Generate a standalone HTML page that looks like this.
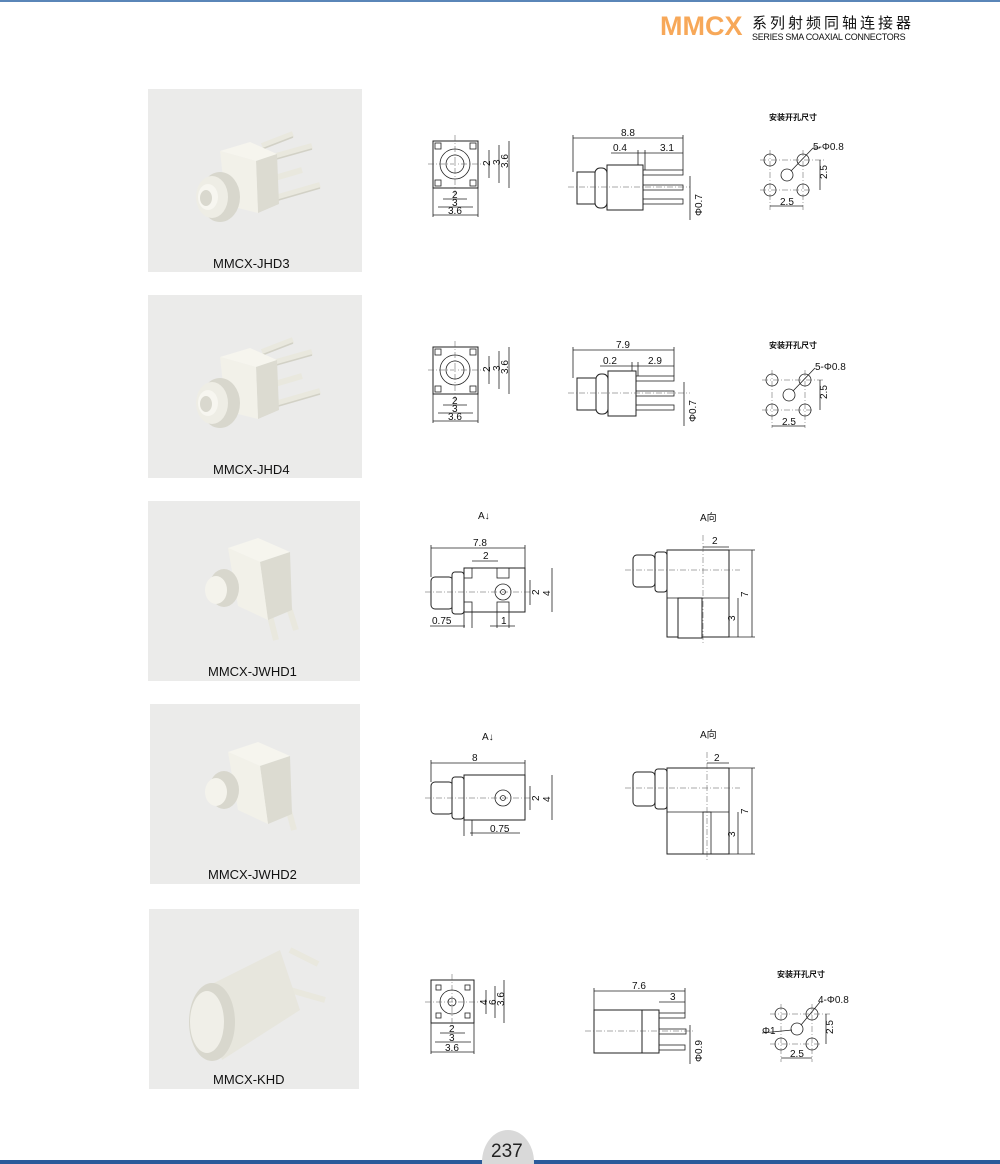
<!DOCTYPE html>
<html><head><meta charset="utf-8"><style>
html,body{margin:0;padding:0;background:#fff}
svg{display:block}
text{font-family:"Liberation Sans","Noto Sans CJK SC",sans-serif;fill:#111}
.d{stroke:#222;stroke-width:0.8;fill:none}
.b{stroke:#222;stroke-width:1;fill:#fff}
.c{stroke:#555;stroke-width:0.5;stroke-dasharray:6 2 1 2;fill:none}
.t{font-size:10px}
.lab{font-size:13px}
.pin{stroke:#e9e8de;stroke-width:6;stroke-linecap:butt}
.pin2{stroke:#d2d1c6;stroke-width:1.5}
</style></head><body>
<svg width="1000" height="1164" viewBox="0 0 1000 1164" xmlns="http://www.w3.org/2000/svg">
<rect x="0" y="0" width="1000" height="2" fill="#5a86b8"/>
<text x="660" y="35" style="font-size:27px;font-weight:bold;fill:#f7a859">MMCX</text>
<text x="752" y="28" style="font-size:15px;letter-spacing:3px">系列射频同轴连接器</text>
<text x="752" y="40" style="font-size:9px;letter-spacing:-0.3px">SERIES SMA  COAXIAL CONNECTORS</text>

<g>
<rect x="148" y="89" width="214" height="183" fill="#ebebea"/>
<rect x="148" y="295" width="214" height="183" fill="#ebebea"/>
<rect x="148" y="501" width="212" height="180" fill="#ebebea"/>
<rect x="150" y="704" width="210" height="180" fill="#ebebea"/>
<rect x="149" y="909" width="210" height="180" fill="#ebebea"/>
<text x="213" y="268" class="lab">MMCX-JHD3</text>
<text x="213" y="474" class="lab">MMCX-JHD4</text>
<text x="208" y="676" class="lab">MMCX-JWHD1</text>
<text x="208" y="879" class="lab">MMCX-JWHD2</text>
<text x="213" y="1084" class="lab">MMCX-KHD</text>
</g>

<g id="p1">
<line x1="262" y1="146" x2="293" y2="134" class="pin"/>
<line x1="262" y1="160" x2="312" y2="146" class="pin"/>
<line x1="268" y1="180" x2="302" y2="170" class="pin"/>
<line x1="268" y1="200" x2="320" y2="185" class="pin"/>
<line x1="262" y1="149" x2="293" y2="137" class="pin2"/>
<line x1="262" y1="163" x2="312" y2="149" class="pin2"/>
<line x1="268" y1="203" x2="320" y2="188" class="pin2"/>
<polygon points="220,151 250,142 277,154 256,161" fill="#f6f5ee"/>
<polygon points="256,161 277,154 279,204 258,213" fill="#dcdbd1"/>
<polygon points="220,151 256,161 258,213 226,205" fill="#f2f1e9"/>
<ellipse cx="220" cy="197" rx="20" ry="25" fill="#d8d7cd"/>
<ellipse cx="212" cy="197" rx="16" ry="21" fill="#eeede5"/>
<ellipse cx="208" cy="197" rx="10" ry="13" fill="#f7f6f0"/>
<ellipse cx="206" cy="198" rx="6" ry="8" fill="#d9d8ce"/>
</g>
<g transform="translate(0,206)">
<line x1="262" y1="146" x2="293" y2="134" class="pin"/>
<line x1="262" y1="160" x2="312" y2="146" class="pin"/>
<line x1="268" y1="180" x2="302" y2="170" class="pin"/>
<line x1="268" y1="200" x2="320" y2="185" class="pin"/>
<line x1="262" y1="149" x2="293" y2="137" class="pin2"/>
<line x1="262" y1="163" x2="312" y2="149" class="pin2"/>
<line x1="268" y1="203" x2="320" y2="188" class="pin2"/>
<polygon points="220,151 250,142 277,154 256,161" fill="#f6f5ee"/>
<polygon points="256,161 277,154 279,204 258,213" fill="#dcdbd1"/>
<polygon points="220,151 256,161 258,213 226,205" fill="#f2f1e9"/>
<ellipse cx="220" cy="197" rx="20" ry="25" fill="#d8d7cd"/>
<ellipse cx="212" cy="197" rx="16" ry="21" fill="#eeede5"/>
<ellipse cx="208" cy="197" rx="10" ry="13" fill="#f7f6f0"/>
<ellipse cx="206" cy="198" rx="6" ry="8" fill="#d9d8ce"/>
</g>
<g>
<line x1="266" y1="600" x2="276" y2="640" class="pin"/>
<line x1="286" y1="598" x2="296" y2="630" class="pin"/>
<polygon points="228,548 258,538 290,552 260,562" fill="#f6f5ee"/>
<polygon points="260,562 290,552 292,610 268,620" fill="#dcdbd1"/>
<polygon points="228,548 260,562 268,620 238,606" fill="#f2f1e9"/>
<ellipse cx="224" cy="588" rx="15" ry="19" fill="#d8d7cd"/>
<ellipse cx="216" cy="590" rx="11" ry="14" fill="#f4f3ec"/>
</g>
<g>
<line x1="286" y1="800" x2="294" y2="830" class="pin"/>
<polygon points="228,752 258,742 290,756 260,766" fill="#f6f5ee"/>
<polygon points="260,766 290,756 292,814 268,824" fill="#dcdbd1"/>
<polygon points="228,752 260,766 268,824 238,810" fill="#f2f1e9"/>
<ellipse cx="224" cy="790" rx="15" ry="19" fill="#d8d7cd"/>
<ellipse cx="216" cy="792" rx="11" ry="14" fill="#f4f3ec"/>
</g>
<g>
<line x1="290" y1="950" x2="318" y2="964" class="pin"/>
<line x1="290" y1="990" x2="325" y2="1000" class="pin"/>
<polygon points="200,990 280,950 300,1010 222,1060" fill="#e7e6dd"/>
<ellipse cx="212" cy="1022" rx="23" ry="39" fill="#d8d7cd"/>
<ellipse cx="207" cy="1022" rx="17" ry="31" fill="#f0efe8"/>
</g>

<!-- ROW 1 drawings -->
<g id="r1">
<rect x="433" y="141" width="45" height="47" class="b"/>
<rect x="435" y="143" width="6" height="6" class="d"/><rect x="470" y="143" width="6" height="6" class="d"/>
<rect x="435" y="180" width="6" height="6" class="d"/><rect x="470" y="180" width="6" height="6" class="d"/>
<circle cx="455" cy="164" r="15" class="d" stroke-width="1.5"/>
<circle cx="455" cy="164" r="9" class="d"/>
<line x1="428" y1="164" x2="484" y2="164" class="c"/><line x1="455" y1="135" x2="455" y2="195" class="c"/>
<line x1="489" y1="150" x2="489" y2="178" class="d"/><line x1="499" y1="145" x2="499" y2="183" class="d"/><line x1="509" y1="141" x2="509" y2="188" class="d"/>
<text x="484" y="168" class="t" transform="rotate(-90 486 164)">2</text>
<text x="495" y="168" class="t" transform="rotate(-90 496 164)">3</text>
<text x="500" y="168" class="t" transform="rotate(-90 504 164)">3.6</text>
<line x1="443" y1="199" x2="467" y2="199" class="d"/><line x1="438" y1="207" x2="473" y2="207" class="d"/><line x1="433" y1="215" x2="478" y2="215" class="d"/>
<line x1="433" y1="188" x2="433" y2="217" class="d"/><line x1="478" y1="188" x2="478" y2="217" class="d"/>
<text x="452" y="198" class="t">2</text><text x="452" y="206" class="t">3</text><text x="448" y="214" class="t">3.6</text>
<rect x="577" y="172" width="30" height="32" class="b"/>
<rect x="595" y="168" width="12" height="40" rx="5" class="b"/>
<rect x="607" y="165" width="36" height="45" class="b"/>
<rect x="643" y="170" width="40" height="5" class="d"/><rect x="643" y="185" width="40" height="5" class="d"/><rect x="643" y="199" width="40" height="5" class="d"/>
<line x1="568" y1="187" x2="690" y2="187" class="c"/>
<line x1="573" y1="138" x2="683" y2="138" class="d"/><line x1="573" y1="135" x2="573" y2="172" class="d"/><line x1="683" y1="135" x2="683" y2="170" class="d"/>
<text x="621" y="136" class="t">8.8</text>
<line x1="611" y1="153" x2="683" y2="153" class="d"/><line x1="638" y1="150" x2="638" y2="165" class="d"/><line x1="645" y1="150" x2="645" y2="170" class="d"/>
<text x="613" y="151" class="t">0.4</text><text x="660" y="151" class="t">3.1</text>
<line x1="690" y1="176" x2="690" y2="220" class="d"/>
<text x="688" y="222" class="t" transform="rotate(-90 692 212)">Φ0.7</text>
<text x="769" y="120" style="font-size:8px;font-weight:bold">安装开孔尺寸</text>
<circle cx="770" cy="160" r="6" class="d"/><circle cx="803" cy="160" r="6" class="d"/><circle cx="787" cy="175" r="6" class="d"/><circle cx="770" cy="190" r="6" class="d"/><circle cx="803" cy="190" r="6" class="d"/>
<line x1="760" y1="160" x2="825" y2="160" class="c"/><line x1="760" y1="190" x2="812" y2="190" class="c"/>
<line x1="770" y1="150" x2="770" y2="210" class="c"/><line x1="803" y1="150" x2="803" y2="210" class="c"/>
<line x1="791" y1="171" x2="813" y2="148" class="d"/><line x1="813" y1="148" x2="820" y2="148" class="d"/>
<text x="813" y="150" class="t">5-Φ0.8</text>
<line x1="820" y1="160" x2="820" y2="190" class="d"/>
<text x="820" y="180" class="t" transform="rotate(-90 823 176)">2.5</text>
<line x1="770" y1="206" x2="803" y2="206" class="d"/>
<text x="780" y="205" class="t">2.5</text>
</g>

<!-- ROW 2 -->
<g transform="translate(0,206)">
<rect x="433" y="141" width="45" height="47" class="b"/>
<rect x="435" y="143" width="6" height="6" class="d"/><rect x="470" y="143" width="6" height="6" class="d"/>
<rect x="435" y="180" width="6" height="6" class="d"/><rect x="470" y="180" width="6" height="6" class="d"/>
<circle cx="455" cy="164" r="15" class="d" stroke-width="1.5"/>
<circle cx="455" cy="164" r="9" class="d"/>
<line x1="428" y1="164" x2="484" y2="164" class="c"/><line x1="455" y1="135" x2="455" y2="195" class="c"/>
<line x1="489" y1="150" x2="489" y2="178" class="d"/><line x1="499" y1="145" x2="499" y2="183" class="d"/><line x1="509" y1="141" x2="509" y2="188" class="d"/>
<text x="484" y="168" class="t" transform="rotate(-90 486 164)">2</text>
<text x="495" y="168" class="t" transform="rotate(-90 496 164)">3</text>
<text x="500" y="168" class="t" transform="rotate(-90 504 164)">3.6</text>
<line x1="443" y1="199" x2="467" y2="199" class="d"/><line x1="438" y1="207" x2="473" y2="207" class="d"/><line x1="433" y1="215" x2="478" y2="215" class="d"/>
<line x1="433" y1="188" x2="433" y2="217" class="d"/><line x1="478" y1="188" x2="478" y2="217" class="d"/>
<text x="452" y="198" class="t">2</text><text x="452" y="206" class="t">3</text><text x="448" y="214" class="t">3.6</text>
<rect x="577" y="172" width="22" height="32" class="b"/>
<rect x="596" y="168" width="12" height="40" rx="5" class="b"/>
<rect x="608" y="165" width="28" height="45" class="b"/>
<rect x="636" y="170" width="38" height="5" class="d"/><rect x="636" y="185" width="38" height="5" class="d"/><rect x="636" y="199" width="38" height="5" class="d"/>
<line x1="568" y1="187" x2="690" y2="187" class="c"/>
<line x1="573" y1="144" x2="674" y2="144" class="d"/><line x1="573" y1="141" x2="573" y2="172" class="d"/><line x1="674" y1="141" x2="674" y2="170" class="d"/>
<text x="616" y="142" class="t">7.9</text>
<line x1="600" y1="160" x2="674" y2="160" class="d"/><line x1="632" y1="156" x2="632" y2="165" class="d"/><line x1="638" y1="156" x2="638" y2="170" class="d"/>
<text x="603" y="158" class="t">0.2</text><text x="648" y="158" class="t">2.9</text>
<line x1="684" y1="176" x2="684" y2="220" class="d"/>
<text x="682" y="222" class="t" transform="rotate(-90 686 212)">Φ0.7</text>
<text x="769" y="142" style="font-size:8px;font-weight:bold">安装开孔尺寸</text>
<circle cx="772" cy="174" r="6" class="d"/><circle cx="805" cy="174" r="6" class="d"/><circle cx="789" cy="189" r="6" class="d"/><circle cx="772" cy="204" r="6" class="d"/><circle cx="805" cy="204" r="6" class="d"/>
<line x1="762" y1="174" x2="825" y2="174" class="c"/><line x1="762" y1="204" x2="814" y2="204" class="c"/>
<line x1="772" y1="164" x2="772" y2="222" class="c"/><line x1="805" y1="164" x2="805" y2="222" class="c"/>
<line x1="793" y1="185" x2="815" y2="162" class="d"/>
<text x="815" y="164" class="t">5-Φ0.8</text>
<line x1="820" y1="174" x2="820" y2="204" class="d"/>
<text x="820" y="194" class="t" transform="rotate(-90 823 190)">2.5</text>
<line x1="772" y1="220" x2="805" y2="220" class="d"/>
<text x="782" y="219" class="t">2.5</text>
</g>

<!-- ROW 3 -->
<g>
<text x="478" y="519" class="t">A↓</text>
<rect x="431" y="577" width="22" height="32" rx="4" class="b"/>
<rect x="452" y="572" width="12" height="42" rx="3" class="b"/>
<rect x="464" y="568" width="61" height="44" class="b"/>
<rect x="464" y="568" width="8" height="10" class="d"/><rect x="464" y="602" width="8" height="10" class="d"/>
<rect x="497" y="568" width="12" height="10" class="d"/><rect x="497" y="602" width="12" height="10" class="d"/>
<circle cx="503" cy="592" r="8" class="d"/><circle cx="503" cy="592" r="2.5" class="d"/>
<line x1="425" y1="592" x2="535" y2="592" class="c"/>
<line x1="431" y1="548" x2="525" y2="548" class="d"/><line x1="431" y1="545" x2="431" y2="577" class="d"/><line x1="525" y1="545" x2="525" y2="568" class="d"/>
<text x="473" y="546" class="t">7.8</text>
<line x1="472" y1="561" x2="498" y2="561" class="d"/><text x="483" y="559" class="t">2</text>
<line x1="530" y1="580" x2="530" y2="605" class="d"/><line x1="552" y1="568" x2="552" y2="612" class="d"/>
<text x="532" y="596" class="t" transform="rotate(-90 535 592)">2</text>
<text x="542" y="596" class="t" transform="rotate(-90 546 592)">4</text>
<line x1="430" y1="626" x2="465" y2="626" class="d"/><line x1="490" y1="626" x2="515" y2="626" class="d"/>
<line x1="464" y1="612" x2="464" y2="628" class="d"/><line x1="472" y1="612" x2="472" y2="628" class="d"/>
<line x1="497" y1="612" x2="497" y2="628" class="d"/><line x1="509" y1="612" x2="509" y2="628" class="d"/>
<text x="432" y="624" class="t">0.75</text><text x="501" y="624" class="t">1</text>
<text x="700" y="521" class="t">A向</text>
<rect x="633" y="555" width="22" height="32" rx="4" class="b"/>
<rect x="655" y="552" width="12" height="40" rx="3" class="b"/>
<rect x="667" y="550" width="62" height="87" class="b"/>
<rect x="678" y="598" width="24" height="40" fill="#fff" stroke="#222"/>
<line x1="667" y1="598" x2="729" y2="598" class="d"/>
<line x1="703" y1="535" x2="703" y2="645" class="c"/>
<line x1="625" y1="570" x2="740" y2="570" class="c"/>
<line x1="703" y1="547" x2="729" y2="547" class="d"/><text x="712" y="544" class="t">2</text>
<line x1="729" y1="550" x2="755" y2="550" class="d"/><line x1="729" y1="637" x2="755" y2="637" class="d"/>
<line x1="752" y1="550" x2="752" y2="637" class="d"/><line x1="738" y1="598" x2="738" y2="637" class="d"/>
<text x="740" y="597" class="t" transform="rotate(-90 744 593)">7</text>
<text x="727" y="621" class="t" transform="rotate(-90 731 617)">3</text>
</g>

<!-- ROW 4 -->
<g>
<text x="482" y="740" class="t">A↓</text>
<rect x="431" y="782" width="22" height="32" rx="4" class="b"/>
<rect x="452" y="777" width="12" height="42" rx="3" class="b"/>
<rect x="464" y="775" width="61" height="45" class="b"/>
<circle cx="503" cy="798" r="8" class="d"/><circle cx="503" cy="798" r="2.5" class="d"/>
<line x1="425" y1="798" x2="535" y2="798" class="c"/>
<line x1="431" y1="763" x2="525" y2="763" class="d"/><line x1="431" y1="760" x2="431" y2="782" class="d"/><line x1="525" y1="760" x2="525" y2="775" class="d"/>
<text x="472" y="761" class="t">8</text>
<line x1="530" y1="786" x2="530" y2="810" class="d"/><line x1="552" y1="775" x2="552" y2="820" class="d"/>
<text x="532" y="802" class="t" transform="rotate(-90 535 798)">2</text>
<text x="542" y="802" class="t" transform="rotate(-90 546 798)">4</text>
<line x1="470" y1="833" x2="520" y2="833" class="d"/><line x1="464" y1="820" x2="464" y2="836" class="d"/><line x1="472" y1="820" x2="472" y2="836" class="d"/>
<text x="490" y="832" class="t">0.75</text>
<text x="700" y="738" class="t">A向</text>
<rect x="633" y="772" width="22" height="34" rx="4" class="b"/>
<rect x="655" y="769" width="12" height="40" rx="3" class="b"/>
<rect x="667" y="768" width="62" height="86" class="b"/>
<line x1="667" y1="812" x2="729" y2="812" class="d"/>
<rect x="703" y="812" width="8" height="42" class="d"/>
<line x1="707" y1="752" x2="707" y2="860" class="c"/>
<line x1="625" y1="788" x2="740" y2="788" class="c"/>
<line x1="707" y1="763" x2="729" y2="763" class="d"/><text x="714" y="761" class="t">2</text>
<line x1="729" y1="768" x2="755" y2="768" class="d"/><line x1="729" y1="854" x2="755" y2="854" class="d"/>
<line x1="752" y1="768" x2="752" y2="854" class="d"/><line x1="738" y1="812" x2="738" y2="854" class="d"/>
<text x="740" y="814" class="t" transform="rotate(-90 744 810)">7</text>
<text x="727" y="837" class="t" transform="rotate(-90 731 833)">3</text>
</g>

<!-- ROW 5 -->
<g>
<rect x="431" y="980" width="43" height="43" class="b"/>
<rect x="436" y="985" width="5" height="5" class="d"/><rect x="465" y="985" width="5" height="5" class="d"/>
<rect x="436" y="1013" width="5" height="5" class="d"/><rect x="465" y="1013" width="5" height="5" class="d"/>
<circle cx="452" cy="1002" r="12" class="d"/><circle cx="452" cy="1002" r="4" class="d"/>
<line x1="425" y1="1002" x2="482" y2="1002" class="c"/><line x1="452" y1="974" x2="452" y2="1028" class="c"/>
<line x1="486" y1="990" x2="486" y2="1014" class="d"/><line x1="495" y1="986" x2="495" y2="1018" class="d"/><line x1="504" y1="980" x2="504" y2="1023" class="d"/>
<text x="480" y="1006" class="t" transform="rotate(-90 483 1002)">4</text>
<text x="489" y="1006" class="t" transform="rotate(-90 492 1002)">6</text>
<text x="496" y="1006" class="t" transform="rotate(-90 500 1002)">3.6</text>
<line x1="440" y1="1033" x2="465" y2="1033" class="d"/><line x1="435" y1="1042" x2="471" y2="1042" class="d"/><line x1="431" y1="1052" x2="474" y2="1052" class="d"/>
<line x1="431" y1="1023" x2="431" y2="1054" class="d"/><line x1="474" y1="1023" x2="474" y2="1054" class="d"/>
<text x="449" y="1032" class="t">2</text><text x="449" y="1041" class="t">3</text><text x="445" y="1051" class="t">3.6</text>
<rect x="594" y="1010" width="48" height="43" class="b"/>
<rect x="642" y="1010" width="17" height="43" class="b"/>
<rect x="659" y="1013" width="26" height="5" class="d"/><rect x="659" y="1029" width="27" height="5" class="d"/><rect x="659" y="1045" width="26" height="5" class="d"/>
<line x1="585" y1="1031" x2="695" y2="1031" class="c"/>
<line x1="594" y1="991" x2="685" y2="991" class="d"/><line x1="594" y1="988" x2="594" y2="1010" class="d"/><line x1="685" y1="988" x2="685" y2="1013" class="d"/>
<text x="632" y="989" class="t">7.6</text>
<line x1="659" y1="1002" x2="685" y2="1002" class="d"/><text x="670" y="1000" class="t">3</text>
<line x1="690" y1="1025" x2="690" y2="1064" class="d"/>
<text x="686" y="1066" class="t" transform="rotate(-90 692 1056)">Φ0.9</text>
<text x="777" y="977" style="font-size:8px;font-weight:bold">安装开孔尺寸</text>
<circle cx="781" cy="1014" r="6" class="d"/><circle cx="812" cy="1014" r="6" class="d"/><circle cx="797" cy="1029" r="6" class="d"/><circle cx="781" cy="1044" r="6" class="d"/><circle cx="812" cy="1044" r="6" class="d"/>
<line x1="770" y1="1014" x2="830" y2="1014" class="c"/><line x1="770" y1="1044" x2="822" y2="1044" class="c"/>
<line x1="781" y1="1004" x2="781" y2="1062" class="c"/><line x1="812" y1="1004" x2="812" y2="1062" class="c"/>
<line x1="801" y1="1025" x2="820" y2="1002" class="d"/>
<text x="818" y="1003" class="t">4-Φ0.8</text>
<line x1="762" y1="1033" x2="792" y2="1030" class="d"/><text x="762" y="1034" class="t">Φ1</text>
<line x1="826" y1="1014" x2="826" y2="1044" class="d"/>
<text x="825" y="1034" class="t" transform="rotate(-90 829 1030)">2.5</text>
<line x1="781" y1="1058" x2="812" y2="1058" class="d"/>
<text x="790" y="1057" class="t">2.5</text>
</g>

<rect x="0" y="1160" width="1000" height="4" fill="#2a5a9a"/>
<ellipse cx="508" cy="1162" rx="26" ry="32" fill="#d9d9d9"/>
<text x="491" y="1157" style="font-size:19px;fill:#222">237</text>
</svg>
</body></html>
